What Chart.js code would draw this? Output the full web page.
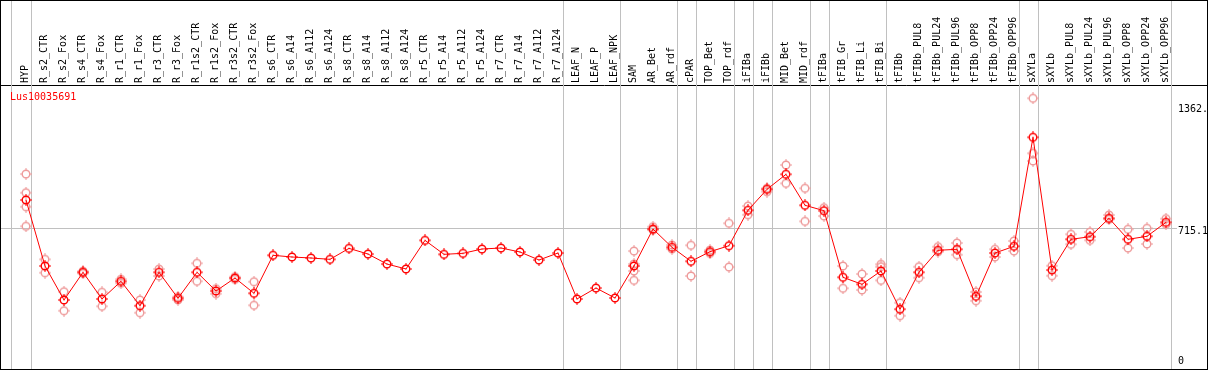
<!DOCTYPE html>
<html lang="en">
<head>
  <meta charset="UTF-8">
  <title>Lus10035691 expression</title>
  <script src="https://cdn.jsdelivr.net/npm/chart.js"></script>
  <style>
    body { margin: 0; background: #fff; }
  </style>
</head>
<body>
  <canvas id="exprChart" width="1209" height="370"></canvas>

  <script>
    // sample names along the top
    const samples = ['HYP', 'R_s2_CTR', 'R_s2_Fox', 'R_s4_CTR', 'R_s4_Fox', 'R_r1_CTR', 'R_r1_Fox',
      'R_r3_CTR', 'R_r3_Fox', 'R_r1s2_CTR', 'R_r1s2_Fox', 'R_r3s2_CTR', 'R_r3s2_Fox',
      'R_s6_CTR', 'R_s6_A14', 'R_s6_A112', 'R_s6_A124', 'R_s8_CTR', 'R_s8_A14', 'R_s8_A112', 'R_s8_A124',
      'R_r5_CTR', 'R_r5_A14', 'R_r5_A112', 'R_r5_A124', 'R_r7_CTR', 'R_r7_A14', 'R_r7_A112', 'R_r7_A124',
      'LEAF_N', 'LEAF_P', 'LEAF_NPK', 'SAM', 'AR_Bet', 'AR_rdf', 'cPAR', 'TOP_Bet', 'TOP_rdf',
      'iFIBa', 'iFIBb', 'MID_Bet', 'MID_rdf', 'tFIBa', 'tFIB_Gr', 'tFIB_Li', 'tFIB_Bi',
      'tFIBb', 'tFIBb_PUL8', 'tFIBb_PUL24', 'tFIBb_PUL96', 'tFIBb_OPP8', 'tFIBb_OPP24', 'tFIBb_OPP96',
      'sXYLa', 'sXYLb', 'sXYLb_PUL8', 'sXYLb_PUL24', 'sXYLb_PUL96', 'sXYLb_OPP8', 'sXYLb_OPP24', 'sXYLb_OPP96'];

    // mean expression per sample
    const means = [864.8, 515.7, 335.9, 482.4, 341.2, 434.8, 305.7, 482.4, 344.9, 482.4, 383.5, 452.2, 371.3,
      572.3, 563.3, 558, 551, 609, 579, 526, 500, 651.5, 577.4, 582.8, 605.6, 610.9, 589.8, 547.4, 584.4,
      341.2, 399.3, 346.5, 515.7, 711.4, 614.6, 540.6, 591.4, 623.1, 810.3, 921.4, 1000.7, 836.8,
      808.2, 455.9, 418.9, 489.3, 287, 482.4, 598.7, 604, 355.4, 584.4, 619.9,
      1196.4, 494.5, 656.9, 670.7, 768, 656.9, 672.8, 746.8];

    // individual replicates per sample (empty = hidden under the mean)
    const replicates = [
      [1002.3, 903.4, 829.4, 725.7], [551, 480.3], [379.8, 279.3], [488, 477], [376.6, 302.5],
      [445.4, 424.2], [335.9, 268.7], [499.8, 462.8], [353.3, 335.9], [530, 434.8], [395.6, 369.2],
      [459, 445], [432.7, 307.8],
      [], [], [], [], [], [], [], [], [], [], [], [], [], [], [], [],
      [], [], [],
      [595, 526.3, 489.3, 440], [723.6, 706], [626.8, 605.6], [625.2, 462.8], [600, 582.8],
      [741.6, 510.4], [833, 787], [926.7, 908.7], [1050, 953], [926.7, 752], [824, 780],
      [515.7, 397.8], [473.4, 388.8], [524.7, 512, 440], [321.6, 252.8],
      [512, 453.8], [617.8, 591.4], [637.4, 575.5], [378.2, 332.2], [604, 563.3], [648, 595],
      [1402.7, 1111.8, 1071.1], [517.3, 464.4], [683.4, 630.5], [695.5, 651.6], [785.5, 762.7],
      [709.8, 610.9], [715.1, 632.1], [766, 736.3]];

    // last sample of each group (a grey line follows it)
    const groupEnds = [0, 28, 31, 34, 35, 37, 38, 39, 41, 42, 45, 52, 53, 60];

    const yTicks = [0, 715.1, 1362];
    const yTickLabels = [['0', ''], '715.1', '1362.'];
    const geneName = 'Lus10035691';

    const FONT = '"DejaVu Sans Mono", monospace';

    // small circle marker with four spokes
    function makeMarker(color, dot) {
      const c = document.createElement('canvas');
      c.width = 12; c.height = 12;
      const g = c.getContext('2d');
      g.strokeStyle = color;
      g.lineWidth = 1.4;
      g.beginPath();
      g.arc(6, 6, 3.8, 0, Math.PI * 2);
      g.stroke();
      g.lineWidth = 1;
      g.beginPath();
      g.moveTo(6, 0); g.lineTo(6, 2);
      g.moveTo(6, 10); g.lineTo(6, 12);
      g.moveTo(0, 6); g.lineTo(2, 6);
      g.moveTo(10, 6); g.lineTo(12, 6);
      g.stroke();
      if (dot) {
        g.fillStyle = color;
        g.fillRect(5.5, 5.5, 1, 1);
      }
      return c;
    }

    const meanPts = means.map((v, i) => ({ x: i, y: v }));
    const repPts = [];
    replicates.forEach((arr, i) => arr.forEach(v => repPts.push({ x: i, y: v })));

    // no edge padding for the axes, the frame is fixed
    function noPad(axis) {
      axis.paddingLeft = 0; axis.paddingRight = 0;
      axis.paddingTop = 0; axis.paddingBottom = 0;
    }

    // frame, group separators, reference line and gene name
    const decorations = {
      id: 'decorations',
      beforeDatasetsDraw(chart) {
        const { ctx, chartArea, scales } = chart;
        ctx.save();
        ctx.strokeStyle = '#c0c0c0';
        ctx.lineWidth = 1;
        const seps = [-0.8].concat(groupEnds.map(i => i + 0.25));
        seps.forEach(p => {
          const x = Math.round(scales.x.getPixelForValue(p)) + 0.5;
          ctx.beginPath();
          ctx.moveTo(x, 0);
          ctx.lineTo(x, chartArea.bottom);
          ctx.stroke();
        });
        const y = Math.round(scales.y.getPixelForValue(715.1)) + 0.5;
        ctx.beginPath();
        ctx.moveTo(chartArea.left, y);
        ctx.lineTo(chartArea.right - 30, y);
        ctx.stroke();
        ctx.restore();
      },
      afterDraw(chart) {
        const { ctx, chartArea } = chart;
        ctx.save();
        ctx.strokeStyle = '#000';
        ctx.lineWidth = 1;
        ctx.strokeRect(0.5, 0.5, chartArea.right, chartArea.bottom);
        ctx.fillStyle = '#ff0000';
        ctx.font = '10px ' + FONT;
        ctx.textBaseline = 'middle';
        ctx.fillText(geneName, 10, chartArea.top + 12.5);
        ctx.restore();
      }
    };

    const ctx = document.getElementById('exprChart').getContext('2d');
    const exprChart = new Chart(ctx, {
      type: 'line',
      data: {
        datasets: [{
          data: meanPts,
          borderColor: '#ff0000',
          borderWidth: 1,
          pointStyle: makeMarker('#ff0000', true),
          tension: 0
        }, {
          type: 'scatter',
          data: repPts,
          pointStyle: makeMarker('#ee9a9a', false),
          showLine: false
        }]
      },
      options: {
        responsive: false,
        animation: false,
        devicePixelRatio: 1,
        layout: { autoPadding: false, padding: { left: 1, right: 0, top: 0, bottom: 1 } },
        plugins: {
          legend: { display: false },
          tooltip: { enabled: false }
        },
        scales: {
          x: {
            type: 'linear',
            position: 'top',
            min: -25 / 19,
            max: 1181 / 19,
            grid: { display: false, drawTicks: false },
            border: { display: true, color: '#000', width: 1 },
            afterBuildTicks: axis => { axis.ticks = samples.map((s, i) => ({ value: i })); },
            afterFit: axis => { axis.height = 85; noPad(axis); },
            ticks: {
              autoSkip: false,
              minRotation: 90,
              maxRotation: 90,
              padding: 2,
              labelOffset: 11.5,
              color: '#000',
              font: { family: FONT, size: 10 },
              callback: v => samples[v]
            }
          },
          y: {
            position: 'right',
            min: -29.1,
            max: 1473.1,
            grid: { display: false, drawTicks: false },
            border: { display: true, color: '#000', width: 1 },
            afterBuildTicks: axis => { axis.ticks = yTicks.map(v => ({ value: v })); },
            afterFit: axis => { axis.width = 2; noPad(axis); },
            ticks: {
              mirror: true,
              crossAlign: 'far',
              padding: 1,
              labelOffset: 3.5,
              color: '#000',
              font: { family: FONT, size: 10 },
              callback: (v, i) => yTickLabels[i]
            }
          }
        }
      },
      plugins: [decorations]
    });
  </script>
</body>
</html>
